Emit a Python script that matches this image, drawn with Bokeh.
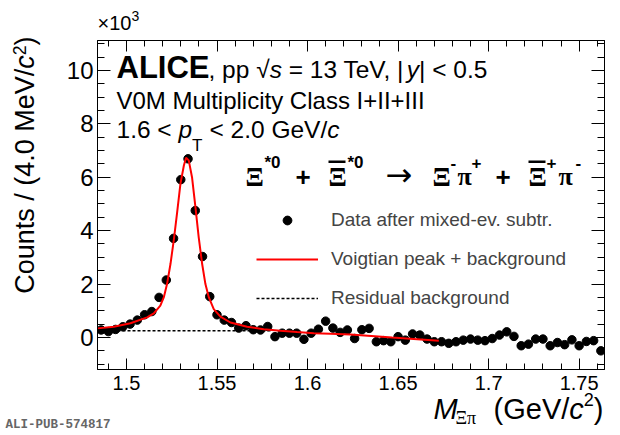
# Xi*0 invariant-mass spectrum after mixed-event subtraction, with Voigtian fit
from bokeh.plotting import figure
from bokeh.core.properties import value
from bokeh.models import (ColumnDataSource, Legend, LegendItem, LinearAxis,
                          SingleIntervalTicker, CustomJSTickFormatter, Range1d, BoxAnnotation)
from bokeh.embed import file_html
from bokeh.resources import INLINE

# bin centres (GeV/c^2), 4 MeV bins
mass = [1.486, 1.490, 1.494, 1.498, 1.502, 1.506, 1.510, 1.514, 1.518, 1.522,
        1.526, 1.530, 1.534, 1.538, 1.542, 1.546, 1.550, 1.554, 1.558, 1.562,
        1.566, 1.570, 1.574, 1.578, 1.582, 1.586, 1.590, 1.594, 1.598, 1.602,
        1.606, 1.610, 1.614, 1.618, 1.622, 1.626, 1.630, 1.634, 1.638, 1.642,
        1.646, 1.650, 1.654, 1.658, 1.662, 1.666, 1.670, 1.674, 1.678, 1.682,
        1.686, 1.690, 1.694, 1.698, 1.702, 1.706, 1.710, 1.714, 1.718, 1.722,
        1.726, 1.730, 1.734, 1.738, 1.742, 1.746, 1.750, 1.754, 1.758, 1.762]

# counts per bin, in units of 10^3
counts_k = [0.28, 0.22, 0.30, 0.40, 0.50, 0.65, 0.85, 0.97, 1.50, 2.15,
            3.71, 5.91, 6.69, 4.75, 3.03, 1.53, 0.85, 0.65, 0.56, 0.35,
            0.44, 0.29, 0.28, 0.41, 0.03, 0.16, 0.16, 0.16, -0.07, 0.16,
            0.31, 0.61, 0.35, 0.19, 0.28, -0.04, 0.29, 0.34, -0.16, -0.12,
            -0.16, 0.03, -0.10, 0.13, 0.09, -0.06, -0.16, -0.16, -0.22, -0.16,
            -0.10, -0.06, -0.10, -0.12, -0.04, 0.09, 0.21, 0.04, -0.31, -0.25,
            -0.06, -0.06, -0.31, -0.19, -0.27, -0.09, -0.31, -0.15, -0.12, -0.50]

# Voigtian peak + background
fit_x = [1.4840, 1.4930, 1.5022, 1.5114, 1.5151, 1.5187, 1.5206, 1.5224, 1.5243, 1.5261,
         1.5280, 1.5298, 1.5317, 1.5329, 1.5344, 1.5362, 1.5381, 1.5399, 1.5418, 1.5436,
         1.5455, 1.5482, 1.5519, 1.5574, 1.5666, 1.5758, 1.5850, 1.5942, 1.6035, 1.6127,
         1.6237, 1.6467, 1.6725]
fit_y = [0.34, 0.40, 0.53, 0.75, 0.90, 1.19, 1.50, 2.00, 2.75, 3.63,
         4.69, 5.75, 6.44, 6.73, 6.63, 6.00, 4.87, 3.75, 2.75, 2.00,
         1.50, 1.06, 0.78, 0.56, 0.40, 0.31, 0.25, 0.20, 0.16, 0.14,
         0.11, 0.00, -0.12]

# residual background
bkg_x = [1.484, 1.580]
bkg_y = [0.25, 0.25]

X0, X1 = 1.484, 1.764
Y0, Y1 = -1.2, 11.12

p = figure(width=620, height=435, x_range=Range1d(X0, X1), y_range=Range1d(Y0, Y1),
           output_backend="svg", toolbar_location=None,
           min_border_left=97, min_border_right=16, min_border_top=40, min_border_bottom=66)
p.grid.visible = False
p.outline_line_color = "black"
p.outline_line_width = 1

bottom_ax = p.below[0]
left_ax = p.left[0]

xt = SingleIntervalTicker(interval=0.05, num_minor_ticks=5)
yt = SingleIntervalTicker(interval=2, num_minor_ticks=4)

top_ax = LinearAxis()
right_ax = LinearAxis()
p.add_layout(top_ax, "above")
p.add_layout(right_ax, "right")

for ax in [bottom_ax, top_ax]:
    ax.ticker = xt
    ax.major_tick_in = 11
    ax.minor_tick_in = 6
for ax in [left_ax, right_ax]:
    ax.ticker = yt
    ax.major_tick_in = 13
    ax.minor_tick_in = 7
for ax in [bottom_ax, top_ax, left_ax, right_ax]:
    ax.major_tick_out = 0
    ax.minor_tick_out = 0
    ax.axis_line_color = "black"
    ax.major_tick_line_color = "black"
    ax.minor_tick_line_color = "black"
    ax.major_label_text_font = "Liberation Sans"
    ax.major_label_text_color = "black"
for ax in [top_ax, right_ax]:
    ax.major_label_text_font_size = "0px"
    ax.major_label_standoff = 0
    ax.major_label_text_alpha = 0

bottom_ax.formatter = CustomJSTickFormatter(code="return parseFloat(tick.toFixed(3)).toString();")
bottom_ax.major_label_text_font_size = "20px"
bottom_ax.major_label_standoff = 6
left_ax.major_label_text_font_size = "24px"
left_ax.major_label_standoff = 4

src = ColumnDataSource(dict(mass=mass, counts=counts_k))
r_bkg = p.line(bkg_x, bkg_y, line_color="black", line_width=1.5, line_dash="3 2")
r_pts = p.scatter("mass", "counts", source=src, size=8.5, color="black")
r_fit = p.line(fit_x, fit_y, line_color="red", line_width=2)

leg = Legend(items=[LegendItem(label="Data after mixed-ev. subtr.", renderers=[r_pts]),
                    LegendItem(label="Voigtian peak + background", renderers=[r_fit]),
                    LegendItem(label="Residual background", renderers=[r_bkg])],
             location=(159, 60), glyph_width=62, glyph_height=22, label_height=22,
             label_standoff=13, spacing=17, padding=0, margin=0,
             label_text_font="Liberation Sans", label_text_font_size="19px",
             background_fill_alpha=0, border_line_alpha=0)
p.add_layout(leg)

# page-pixel helpers for the annotations
FL, FR, FT, FB = 97, 604, 40, 369


def dx(px):
    return X0 + (px - FL) * (X1 - X0) / (FR - FL)


def dy(py):
    return Y1 - (py - FT) * (Y1 - Y0) / (FB - FT)


def lab(txt, px, py, size, style="normal", font="Liberation Sans", align="left",
        angle=0, color="black"):
    # text glyph on the overlay level so it may sit outside the frame;
    # the glyph sits about a third of its size low, so lift it by that
    off = 0.33 * size
    if angle == 0:
        py -= off
    else:
        px -= off
    p.text(x=[dx(px)], y=[dy(py)], text=[txt], text_font=value(font),
           text_font_size=value("%.1fpx" % size), text_font_style=value(style),
           text_align=value(align), text_baseline=value("alphabetic"), angle=angle,
           text_color=color, level="overlay")


W = {",": 278, " ": 278, "p": 556, "√": 549, "s": 500, "=": 584, "T": 611, "e": 556,
     "V": 667, "|": 180, "y": 500, "<": 584, ".": 278, "G": 778, "/": 278, "c": 500,
     "(": 333, ")": 333, "M": 833}


def tw(s, size):
    return sum(W.get(ch, 556) for ch in s) * size / 1000.0


def run(segs, px, py, size):
    for txt, kind in segs:
        sz = size * 0.7 if kind == "sub" else size
        yb = py + 14 if kind == "sub" else py
        lead = len(txt) - len(txt.lstrip(" "))
        px += tw(" " * lead, sz)
        txt = txt.lstrip(" ")
        lab(txt, px, yb, sz, "italic" if kind == "i" else "normal")
        px += tw(txt, sz)


# x10^3 multiplier
lab("×10", 97, 29, 20)
lab("3", 131, 20, 14)

# header
lab("ALICE", 116, 77, 31, "bold")
run([(", pp √", "n"), ("s", "i"), (" = 13 TeV, |", "n"), ("y", "i"), ("| < 0.5", "n")],
    208, 77, 24.5)
lab("V0M Multiplicity Class I+II+III", 116, 108, 24)
run([("1.6 < ", "n"), ("p", "i"), ("T", "sub"), (" < 2.0 GeV/", "n"), ("c", "i")],
    116, 137, 24.5)

# decay channel
SER = "Liberation Serif"
lab("Ξ", 245, 185, 27, "bold", SER)
lab("*0", 264, 168, 17, "bold")
lab("+", 295, 185, 26, "bold")
lab("Ξ", 328, 185, 27, "bold", SER)
lab("*0", 347, 168, 17, "bold")
lab("→", 385, 185, 32, font="DejaVu Sans")
lab("Ξ", 432, 185, 27, "bold", SER)
lab("-", 450, 168, 17, "bold")
lab("π", 457, 185, 26, "bold", SER)
lab("+", 471, 168, 17, "bold")
lab("+", 495, 185, 26, "bold")
lab("Ξ", 528, 185, 27, "bold", SER)
lab("+", 546, 168, 17, "bold")
lab("π", 558, 185, 26, "bold", SER)
lab("-", 575, 168, 17, "bold")
for x_left in (328, 528):
    p.add_layout(BoxAnnotation(left=dx(x_left), right=dx(x_left + 17), top=dy(160),
                               bottom=dy(162.5), fill_color="black", fill_alpha=1,
                               line_alpha=0))

# y title (rotated, right-aligned at the top of the frame)
TS = 27
ang = 1.5707963
yy = 36
lab(")", 33, yy, TS, align="right", angle=ang)
yy += tw(")", TS)
lab("2", 25, yy, TS * 0.65, align="right", angle=ang)
yy += tw("2", TS * 0.65)
lab("c", 33, yy, TS, "italic", align="right", angle=ang)
yy += tw("c", TS)
lab("Counts / (4.0 MeV/", 33, yy, TS, align="right", angle=ang)

# x title (right-aligned at the right edge of the frame)
XS = 29
xx = 603
lab(")", xx, 418, XS, align="right")
xx -= tw(")", XS)
lab("2", xx, 405, 18, align="right")
xx -= tw("2", 18)
lab("c", xx, 418, XS, "italic", align="right")
xx -= tw("c", XS)
lab("(GeV/", xx, 418, XS, align="right")
lab("M", 433, 418, XS, "italic")
lab("Ξπ", 455, 423, 18, font=SER)

lab("ALI-PUB-574817", 5, 429, 12.5, "bold", "Liberation Mono", color="#666666")

open("out.html", "w").write(file_html(p, INLINE))
